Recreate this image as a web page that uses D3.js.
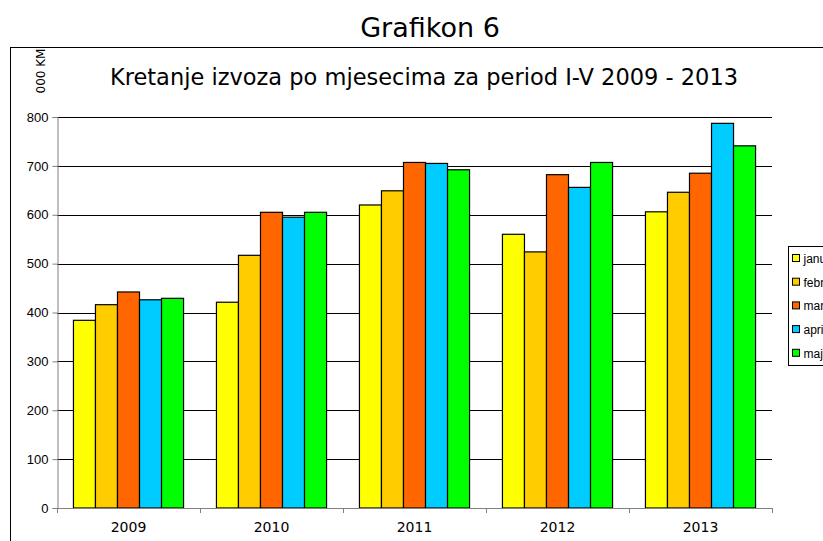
<!DOCTYPE html>
<html>
<head>
<meta charset="utf-8">
<script src="https://cdn.jsdelivr.net/npm/d3@7"></script>
<style>
  body { margin: 0; background: #fff; }
  svg { display: block; }
</style>
</head>
<body>
<svg id="chart" width="823" height="541"></svg>
<script>
var years = ["2009", "2010", "2011", "2012", "2013"];
var months = ["januar", "februar", "mart", "april", "maj"];
var colors = ["#ffff00", "#ffcc00", "#ff6600", "#00ccff", "#00ff00"];
var jan = [384, 421, 620, 560, 606];
var feb = [416, 517, 649, 524, 646];
var mar = [442, 605, 707, 682, 685];
var apr = [426, 595, 705, 656, 787];
var maj = [429, 605, 692, 707, 741];
var yTicks = [0, 100, 200, 300, 400, 500, 600, 700, 800];

var series = [jan, feb, mar, apr, maj];

var svg = d3.select("#chart");
var plotLeft = 57, plotRight = 772, plotTop = 117, plotBottom = 508;

// outer chart frame
svg.append("rect")
    .attr("x", 10.5).attr("y", 47.5)
    .attr("width", 900).attr("height", 600)
    .attr("fill", "none").attr("stroke", "#000");

svg.append("text")
    .attr("x", 430).attr("y", 37)
    .attr("text-anchor", "middle")
    .attr("font-family", "DejaVu Sans, Verdana, sans-serif")
    .attr("font-size", 27)
    .text("Grafikon 6");

svg.append("text")
    .attr("x", 424).attr("y", 85)
    .attr("text-anchor", "middle")
    .attr("font-family", "DejaVu Sans, Verdana, sans-serif")
    .attr("font-size", 22.5)
    .text("Kretanje izvoza po mjesecima za period I-V 2009 - 2013");

svg.append("text")
    .attr("transform", "translate(45,71) rotate(-90)")
    .attr("text-anchor", "middle")
    .attr("font-family", "DejaVu Sans, Verdana, sans-serif")
    .attr("font-size", 12)
    .text("000 KM");

var y = d3.scaleLinear().domain([0, 800]).range([plotBottom, plotTop]);
var x0 = d3.scaleBand().domain(years).range([plotLeft, plotRight])
    .paddingInner(0.23).paddingOuter(0.115);
var x1 = d3.scaleBand().domain(d3.range(months.length)).range([0, x0.bandwidth()]);

// gridlines
svg.append("g").selectAll("line")
    .data(yTicks.slice(1))
    .enter().append("line")
    .attr("x1", plotLeft).attr("x2", plotRight)
    .attr("y1", function(d) { return Math.round(y(d)) + 0.5; })
    .attr("y2", function(d) { return Math.round(y(d)) + 0.5; })
    .attr("stroke", "#000").attr("stroke-width", 1);

// bars
var groups = svg.append("g").selectAll("g")
    .data(years)
    .enter().append("g")
    .attr("transform", function(d) { return "translate(" + x0(d) + ",0)"; });

groups.selectAll("rect")
    .data(function(d, i) { return series.map(function(s, j) { return {k: j, v: s[i]}; }); })
    .enter().append("rect")
    .attr("x", function(d) { return x1(d.k); })
    .attr("y", function(d) { return y(d.v); })
    .attr("width", x1.bandwidth())
    .attr("height", function(d) { return plotBottom - y(d.v); })
    .attr("fill", function(d) { return colors[d.k]; })
    .attr("stroke", "#000").attr("stroke-width", 1.2);

// y axis
var yAxis = d3.axisLeft(y).tickValues(yTicks).tickSize(5).tickPadding(4);
var gy = svg.append("g").attr("transform", "translate(" + (plotLeft + 0.5) + ",0)").call(yAxis);
gy.select(".domain").attr("stroke", "#808080");
gy.selectAll(".tick line").attr("stroke", "#808080");
gy.selectAll("text")
    .attr("font-family", "Liberation Sans, Arial, sans-serif")
    .attr("font-size", 13).attr("fill", "#000");

// x axis: ticks at category boundaries
var step = x0.step();
var gx = svg.append("g");
gx.append("line")
    .attr("x1", plotLeft).attr("x2", plotRight)
    .attr("y1", plotBottom + 0.5).attr("y2", plotBottom + 0.5)
    .attr("stroke", "#808080");
gx.selectAll(".xt")
    .data(d3.range(years.length + 1))
    .enter().append("line")
    .attr("x1", function(i) { return Math.round(plotLeft + i * step) + 0.5; })
    .attr("x2", function(i) { return Math.round(plotLeft + i * step) + 0.5; })
    .attr("y1", plotBottom).attr("y2", plotBottom + 5)
    .attr("stroke", "#808080");
gx.selectAll("text")
    .data(years)
    .enter().append("text")
    .attr("x", function(d) { return x0(d) + x0.bandwidth() / 2; })
    .attr("y", 532)
    .attr("text-anchor", "middle")
    .attr("font-family", "DejaVu Sans, Verdana, sans-serif")
    .attr("font-size", 14)
    .text(function(d) { return d; });

// legend (runs off the right edge like the original)
var lg = svg.append("g").attr("transform", "translate(788.5,246.5)");
lg.append("rect")
    .attr("width", 80).attr("height", 119)
    .attr("fill", "#fff").attr("stroke", "#000");
var items = lg.selectAll("g")
    .data(months)
    .enter().append("g")
    .attr("transform", function(d, i) { return "translate(0," + (12 + i * 23.7) + ")"; });
items.append("rect")
    .attr("x", 4).attr("y", -4)
    .attr("width", 7).attr("height", 7)
    .attr("fill", function(d, i) { return colors[i]; })
    .attr("stroke", "#000");
items.append("text")
    .attr("x", 15).attr("y", 4.5)
    .attr("font-family", "Liberation Sans, Arial, sans-serif")
    .attr("font-size", 12)
    .text(function(d) { return d; });
</script>
</body>
</html>
